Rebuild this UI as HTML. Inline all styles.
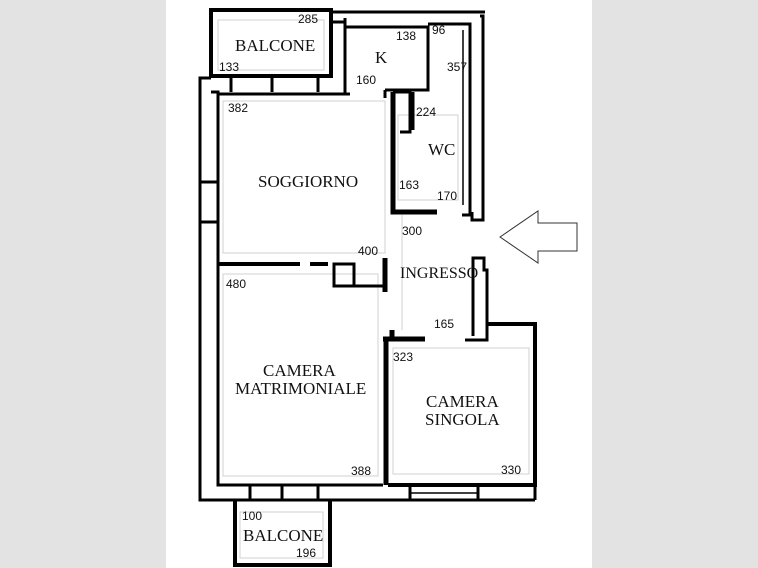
<!DOCTYPE html>
<html><head><meta charset="utf-8"><style>
html,body{margin:0;padding:0;background:#fff}
body{width:758px;height:568px;overflow:hidden;position:relative}
.g{position:absolute;top:0;height:568px;background:#e3e3e3}
svg{position:absolute;left:0;top:0}
text{font-family:"Liberation Serif",serif;fill:#111}
.n{font-family:"Liberation Sans",sans-serif;font-size:12px}
.r{font-size:17px}
</style></head><body>
<div class="g" style="left:0;width:166px"></div>
<div class="g" style="left:592px;width:166px"></div>
<svg width="758" height="568" viewBox="0 0 758 568">
<g stroke="#d0d0d0" stroke-width="1" fill="none">
<rect x="223" y="101" width="162" height="152"/>
<rect x="223" y="274" width="155" height="202"/>
<rect x="393" y="348" width="136" height="126"/>
<line x1="402" y1="215" x2="402" y2="330"/>
<rect x="398" y="115" width="60" height="85"/>
<rect x="218" y="20" width="106" height="50"/>
<rect x="240" y="512" width="83" height="46"/>
</g>
<g stroke="#000" fill="none" stroke-width="3">
<rect x="211" y="10" width="120" height="66" stroke-width="4"/>
<polyline points="331,12 485,12"/>
<polyline points="331,22 345,22"/>
<line x1="345" y1="18" x2="345" y2="94"/>
<line x1="345" y1="94" x2="350" y2="94"/>
<polyline points="345,27 428,27 428,90 385,90"/>
<line x1="385" y1="90" x2="385" y2="98"/>
<polyline points="428,24 470,24 470,215 462,215"/>
<polyline points="480,16 483,16 483,220 472,220 472,212"/>
<line x1="463" y1="30" x2="463" y2="205" stroke-width="1.5"/>
<polyline points="211,78 200,78 200,500 535,500"/>
<polyline points="211,92 218,92 218,485 383,485"/>
<line x1="218" y1="94" x2="350" y2="94"/>
<line x1="200" y1="182" x2="217" y2="182"/>
<line x1="200" y1="222" x2="217" y2="222"/>
<polyline points="393,92 393,212 437,212" stroke-width="5"/>
<polyline points="393,92 410,92 410,132 400,132"/>
<line x1="413" y1="92" x2="413" y2="130"/>
<line x1="218" y1="264" x2="300" y2="264" stroke-width="4"/>
<line x1="310" y1="264" x2="328" y2="264" stroke-width="4"/>
<rect x="334" y="264" width="20" height="22"/>
<line x1="385" y1="258" x2="385" y2="292" stroke-width="5"/>
<line x1="354" y1="286" x2="385" y2="286"/>
<polyline points="386,338 386,485" stroke-width="5"/>
<line x1="383" y1="339" x2="425" y2="339" stroke-width="5"/>
<line x1="392" y1="330" x2="392" y2="340" stroke-width="5"/>
<polyline points="473,336 473,258 484,258 484,270 487,270 487,340 465,340"/>
<polyline points="488,324 535,324 535,485 388,485" stroke-width="4"/>
<line x1="535" y1="485" x2="535" y2="500"/>
<line x1="250" y1="486" x2="250" y2="500"/>
<line x1="282" y1="486" x2="282" y2="500"/>
<line x1="318" y1="486" x2="318" y2="500"/>
<line x1="410" y1="486" x2="410" y2="500"/>
<line x1="478" y1="486" x2="478" y2="500"/>
<line x1="410" y1="493" x2="478" y2="493" stroke-width="1.5"/>
<line x1="231" y1="78" x2="231" y2="92"/>
<line x1="272" y1="78" x2="272" y2="92"/>
<line x1="318" y1="78" x2="318" y2="92"/>
<polyline points="235,500 235,565 330,565 330,500" stroke-width="4"/>
</g>
<polygon points="500,237 538,211 538,223 577,223 577,251 538,251 538,263" fill="#fff" stroke="#333" stroke-width="1"/>
<text class="r" x="235" y="51">BALCONE</text>
<text class="r" x="375" y="63">K</text>
<text class="r" x="428" y="155">WC</text>
<text class="r" x="258" y="187">SOGGIORNO</text>
<text x="400" y="278" style="font-size:16px">INGRESSO</text>
<text class="r" x="263" y="376">CAMERA</text>
<text class="r" x="235" y="394">MATRIMONIALE</text>
<text class="r" x="426" y="407">CAMERA</text>
<text class="r" x="425" y="425">SINGOLA</text>
<text class="r" x="243" y="541">BALCONE</text>
<text class="n" x="298" y="23">285</text>
<text class="n" x="219" y="71">133</text>
<text class="n" x="396" y="40">138</text>
<text class="n" x="356" y="84">160</text>
<text class="n" x="432" y="34">96</text>
<text class="n" x="447" y="71">357</text>
<text class="n" x="228" y="112">382</text>
<text class="n" x="416" y="116">224</text>
<text class="n" x="399" y="189">163</text>
<text class="n" x="437" y="200">170</text>
<text class="n" x="402" y="235">300</text>
<text class="n" x="358" y="255">400</text>
<text class="n" x="226" y="288">480</text>
<text class="n" x="434" y="328">165</text>
<text class="n" x="393" y="361">323</text>
<text class="n" x="351" y="475">388</text>
<text class="n" x="501" y="474">330</text>
<text class="n" x="242" y="520">100</text>
<text class="n" x="296" y="557">196</text>
</svg>
</body></html>
